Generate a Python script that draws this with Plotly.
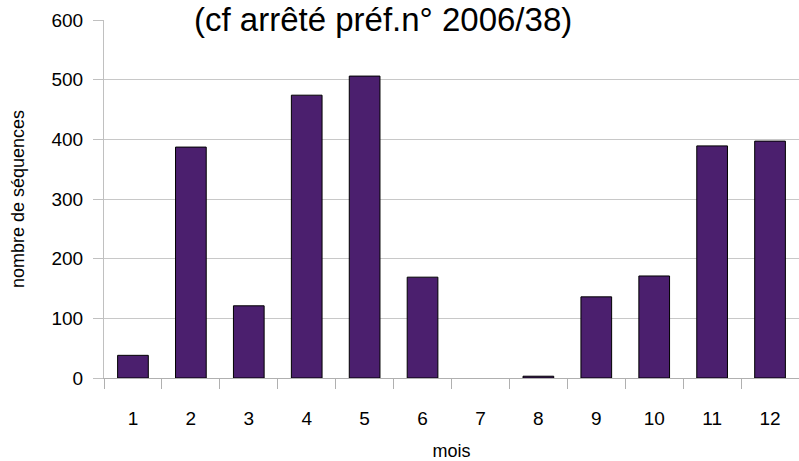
import plotly.graph_objects as go

months = ["1", "2", "3", "4", "5", "6", "7", "8", "9", "10", "11", "12"]
sequences = [38, 387, 121, 474, 506, 169, 0, 3, 136, 171, 389, 397]
y_ticks = [0, 100, 200, 300, 400, 500, 600]
title_text = "(cf arrêté préf.n° 2006/38)"
x_title = "mois"
y_title = "nombre de séquences"

FONT = "Liberation Sans, Arial, sans-serif"

outline_widths = [0 if v == 0 else 1 for v in sequences]

fig = go.Figure(go.Bar(
    x=months, y=sequences,
    marker=dict(color="#4b1f6e", line=dict(color="black", width=outline_widths)),
))

fig.update_layout(
    width=799, height=461,
    margin=dict(l=104, r=0, t=20, b=83),
    paper_bgcolor="white", plot_bgcolor="white",
    bargap=0.47,
    showlegend=False,
    font=dict(family=FONT, size=19, color="black"),
    xaxis=dict(
        type="category", tickson="boundaries", ticks="outside", ticklen=10,
        tickcolor="#b0b0b0", showline=True, linecolor="#b0b0b0", linewidth=1,
        showgrid=False, tickfont=dict(size=19), ticklabelstandoff=23,
        title=dict(text=x_title, font=dict(size=18), standoff=19),
    ),
    yaxis=dict(
        range=[0, 600], tickvals=y_ticks, ticks="outside", ticklen=10,
        tickcolor="#c0c0c0", showline=True, linecolor="#c0c0c0", linewidth=1,
        showgrid=True, gridcolor="#c8c8c8", gridwidth=1, zeroline=False,
        tickfont=dict(size=19), ticklabelstandoff=6,
        title=dict(text=y_title, font=dict(size=18), standoff=22),
    ),
    annotations=[dict(
        text=title_text, xref="paper", yref="paper", x=(383 - 104) / 695,
        y=1, yshift=1, xanchor="center", yanchor="middle", showarrow=False,
        font=dict(size=33, family=FONT, color="black"),
    )],
)

fig.write_html("out.html", post_script="document.body.style.margin='0';",
               config={"displayModeBar": False})
